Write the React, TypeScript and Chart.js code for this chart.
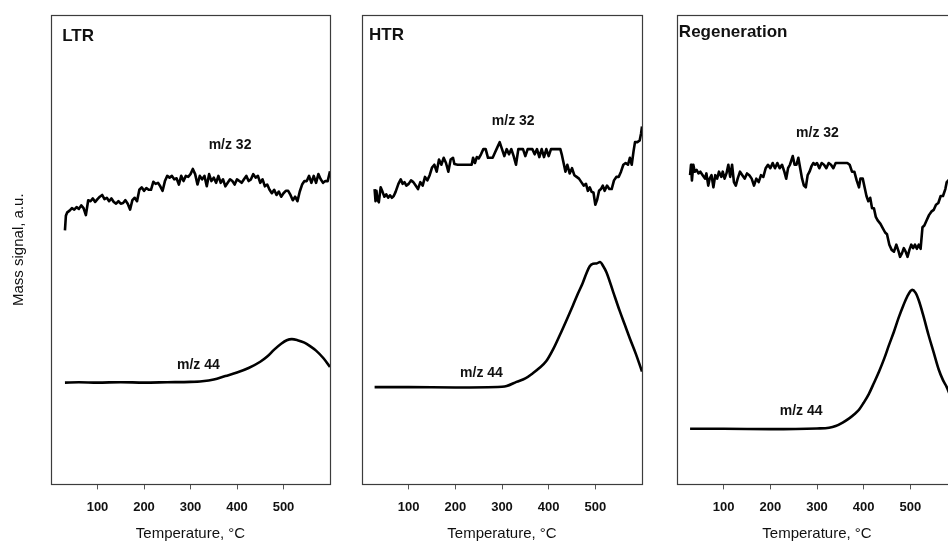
import React, { useEffect, useRef } from 'react';
import { Chart, registerables } from 'chart.js';
Chart.register(...registerables);

const FONT = '"Liberation Sans", Arial, Helvetica, sans-serif';

// x-axis ticks (°C)
const X_TICKS = [100, 200, 300, 400, 500];

// ---------- LTR ----------
const ltrT32 = [30, 32, 35, 40, 45, 50, 55, 60, 65, 70, 75, 80, 85, 90, 95, 100, 105, 110, 115, 120, 125, 130, 135, 140, 145, 150, 155, 160, 165, 170, 175, 180, 185, 190, 195, 200, 205, 210, 215, 220, 225, 230, 235, 240, 245, 250, 255, 260, 265, 270, 275, 280, 285, 290, 295, 300, 305, 310, 315, 320, 325, 330, 335, 340, 345, 350, 355, 360, 365, 370, 375, 380, 385, 390, 395, 400, 405, 410, 415, 420, 425, 430, 435, 440, 445, 450, 455, 460, 465, 470, 475, 480, 485, 490, 495, 500, 505, 510, 515, 520, 525, 530, 535, 540, 545, 550, 555, 560, 565, 570, 575, 580, 585, 590, 595, 600];
const ltrS32 = [731, 773, 783, 788, 795, 791, 798, 793, 803, 795, 775, 818, 815, 823, 813, 821, 828, 833, 821, 825, 815, 823, 813, 808, 815, 808, 810, 818, 808, 791, 818, 825, 815, 848, 855, 845, 853, 848, 848, 871, 865, 868, 858, 845, 873, 888, 883, 888, 878, 881, 863, 888, 873, 888, 885, 893, 908, 893, 863, 888, 878, 888, 858, 893, 873, 883, 868, 888, 868, 878, 858, 868, 878, 873, 863, 878, 873, 868, 878, 888, 873, 878, 893, 883, 888, 868, 878, 858, 863, 848, 838, 848, 833, 843, 828, 838, 845, 845, 833, 818, 828, 815, 843, 863, 873, 873, 888, 868, 888, 868, 893, 878, 868, 873, 873, 901];
const ltrT44 = [30, 60, 100, 150, 200, 250, 300, 325, 350, 375, 400, 425, 450, 465, 480, 495, 507, 518, 530, 545, 557, 570, 586, 600];
const ltrS44 = [293, 294, 293, 294, 293, 294, 295, 297, 302, 312, 322, 335, 353, 368, 388, 405, 415, 418, 415, 408, 398, 385, 363, 338];

// ---------- HTR ----------
const htrT32 = [27, 29, 31, 33, 36, 40, 44, 48, 52, 56, 60, 64, 68, 72, 78, 83, 87, 91, 95, 100, 105, 110, 115, 120, 125, 130, 135, 140, 145, 150, 155, 160, 165, 170, 175, 180, 185, 190, 195, 198, 205, 215, 225, 235, 238, 242, 246, 250, 255, 260, 265, 270, 275, 280, 285, 290, 295, 300, 305, 310, 315, 320, 325, 330, 335, 340, 345, 350, 355, 360, 365, 370, 375, 380, 385, 390, 395, 400, 405, 410, 415, 420, 425, 428, 432, 436, 440, 445, 450, 455, 460, 465, 470, 475, 480, 484, 488, 492, 496, 500, 504, 508, 512, 516, 520, 525, 530, 535, 540, 545, 550, 555, 560, 565, 570, 574, 578, 582, 585, 590, 595, 598, 600];
const htrS32 = [850, 815, 845, 820, 812, 855, 842, 828, 835, 825, 832, 825, 830, 842, 865, 878, 865, 870, 860, 865, 875, 870, 860, 850, 870, 860, 885, 875, 890, 912, 920, 900, 935, 920, 940, 925, 900, 935, 940, 922, 920, 920, 920, 920, 940, 925, 942, 938, 950, 965, 965, 940, 940, 940, 955, 970, 985, 965, 945, 965, 950, 965, 945, 920, 965, 965, 965, 945, 965, 965, 965, 950, 965, 942, 965, 942, 965, 945, 965, 965, 965, 965, 965, 950, 925, 900, 920, 895, 910, 890, 885, 880, 870, 860, 865, 845, 855, 842, 840, 805, 820, 845, 850, 860, 845, 860, 850, 850, 875, 885, 885, 900, 920, 925, 920, 940, 920, 960, 985, 985, 990, 1010, 1030];
const htrT44 = [27, 100, 200, 300, 310, 331, 350, 366, 380, 395, 410, 424, 438, 452, 463, 473, 481, 488, 495, 503, 510, 517, 524, 538, 552, 563, 574, 587, 600];
const htrS44 = [280, 280, 279, 281, 283, 295, 305, 320, 335, 355, 390, 430, 472, 515, 550, 580, 608, 628, 635, 636, 640, 628, 610, 555, 500, 460, 420, 375, 325];

// ---------- Regeneration ----------
const regT32 = [28, 30, 32, 35, 38, 42, 46, 50, 55, 60, 63, 67, 70, 74, 78, 82, 86, 90, 95, 98, 102, 106, 110, 114, 118, 122, 126, 130, 135, 140, 145, 150, 155, 160, 165, 170, 175, 180, 185, 190, 195, 200, 205, 210, 215, 220, 225, 230, 234, 238, 242, 248, 252, 256, 260, 264, 268, 272, 276, 280, 284, 288, 292, 296, 300, 305, 310, 315, 320, 325, 330, 335, 340, 345, 350, 355, 360, 365, 370, 375, 380, 385, 390, 393, 398, 402, 406, 410, 414, 418, 422, 426, 430, 436, 440, 446, 450, 455, 460, 465, 470, 475, 478, 482, 486, 490, 494, 498, 502, 506, 510, 514, 518, 522, 526, 530, 535, 540, 545, 550, 555, 560, 565, 570, 575, 578, 585, 595];
const regS32 = [890, 920, 875, 920, 900, 905, 895, 900, 890, 880, 895, 860, 880, 890, 855, 890, 880, 900, 885, 900, 880, 895, 920, 885, 920, 870, 860, 880, 900, 890, 880, 895, 890, 880, 860, 880, 870, 890, 885, 910, 920, 910, 925, 910, 925, 910, 920, 900, 880, 910, 920, 945, 920, 920, 940, 910, 880, 860, 855, 890, 900, 915, 925, 920, 925, 910, 925, 920, 910, 925, 920, 910, 925, 925, 925, 925, 925, 925, 920, 900, 900, 875, 855, 880, 880, 855, 830, 815, 825, 795, 795, 770, 760, 750, 740, 725, 720, 690, 675, 670, 690, 670, 655, 665, 680, 670, 655, 675, 690, 680, 690, 678, 690, 678, 740, 745, 760, 775, 785, 790, 805, 810, 830, 830, 850, 870, 880, 900];
const regT44 = [28, 100, 200, 300, 326, 340, 355, 369, 380, 390, 400, 411, 422, 433, 444, 454, 465, 475, 485, 493, 504, 511, 518, 528, 539, 550, 561, 570, 578, 590];
const regS44 = [160, 160, 159, 161, 163, 168, 178, 190, 202, 215, 235, 260, 292, 325, 362, 400, 440, 480, 515, 540, 560, 552, 530, 485, 430, 380, 330, 300, 280, 240];

type Label = { text: string; x: number; y: number; font: string; align: CanvasTextAlign };
type Panel = {
  left: number; width: number; padL: number; padR: number; yTitle: boolean;
  series: { t: number[]; s: number[]; smooth: boolean }[];
  labels: Label[];
};

const TITLE_FONT = `bold 17px ${FONT}`;
const MZ_FONT = `bold 14px ${FONT}`;

const PANELS: Panel[] = [
  {
    left: 0, width: 345, padL: 51, padR: 15, yTitle: true,
    series: [{ t: ltrT32, s: ltrS32, smooth: false }, { t: ltrT44, s: ltrS44, smooth: true }],
    labels: [
      { text: 'LTR', x: 24, y: 1290, font: TITLE_FONT, align: 'left' },
      { text: 'm/z 32', x: 385, y: 975, font: MZ_FONT, align: 'center' },
      { text: 'm/z 44', x: 317, y: 343, font: MZ_FONT, align: 'center' },
    ],
  },
  {
    left: 345, width: 310, padL: 17, padR: 13, yTitle: false,
    series: [{ t: htrT32, s: htrS32, smooth: false }, { t: htrT44, s: htrS44, smooth: true }],
    labels: [
      { text: 'HTR', x: 15, y: 1292, font: TITLE_FONT, align: 'left' },
      { text: 'm/z 32', x: 324, y: 1045, font: MZ_FONT, align: 'center' },
      { text: 'm/z 44', x: 256, y: 320, font: MZ_FONT, align: 'center' },
    ],
  },
  {
    left: 655, width: 320, padL: 22, padR: 18, yTitle: false,
    series: [{ t: regT32, s: regS32, smooth: false }, { t: regT44, s: regS44, smooth: true }],
    labels: [
      { text: 'Regeneration', x: 4, y: 1300, font: TITLE_FONT, align: 'left' },
      { text: 'm/z 32', x: 301, y: 1012, font: MZ_FONT, align: 'center' },
      { text: 'm/z 44', x: 266, y: 212, font: MZ_FONT, align: 'center' },
    ],
  },
];

const H = 545;

function PanelChart({ p }: { p: Panel }) {
  const ref = useRef<HTMLCanvasElement>(null);
  useEffect(() => {
    if (!ref.current) return;
    const deco = {
      id: 'deco',
      afterDatasetsDraw(chart: any) {
        const { ctx, chartArea: a, scales } = chart;
        ctx.save();
        ctx.strokeStyle = '#3c3c3c';
        ctx.lineWidth = 1.2;
        ctx.strokeRect(Math.round(a.left) + 0.5, Math.round(a.top) + 0.5, Math.round(a.right - a.left), Math.round(a.bottom - a.top));
        ctx.fillStyle = '#111';
        ctx.textBaseline = 'middle';
        for (const l of p.labels) {
          ctx.font = l.font;
          ctx.textAlign = l.align;
          ctx.fillText(l.text, scales.x.getPixelForValue(l.x), scales.y.getPixelForValue(l.y));
        }
        if (p.yTitle) {
          ctx.translate(19, (a.top + a.bottom) / 2);
          ctx.rotate(-Math.PI / 2);
          ctx.font = `15px ${FONT}`;
          ctx.textAlign = 'center';
          ctx.fillText('Mass signal, a.u.', 0, 0);
        }
        ctx.restore();
      },
    };
    const chart = new Chart(ref.current, {
      type: 'line',
      data: {
        datasets: p.series.map((s) => ({
          data: s.t.map((x, i) => ({ x, y: s.s[i] })),
          borderColor: '#000',
          borderWidth: 2.6,
          pointRadius: 0,
          fill: false,
          tension: s.smooth ? 0.4 : 0,
          cubicInterpolationMode: s.smooth ? 'monotone' : 'default',
          borderJoinStyle: 'round',
        })) as any,
      },
      options: {
        responsive: false,
        animation: false,
        events: [],
        layout: { padding: { left: p.padL, right: p.padR, top: 15, bottom: 0 } },
        plugins: { legend: { display: false }, tooltip: { enabled: false } },
        scales: {
          x: {
            type: 'linear',
            min: 0,
            max: 600,
            afterBuildTicks: (axis: any) => {
              axis.ticks = X_TICKS.map((value) => ({ value }));
            },
            border: { display: false },
            grid: { drawOnChartArea: false, drawTicks: true, tickLength: 5, color: '#555', lineWidth: 1 },
            ticks: { font: { family: FONT, size: 13, weight: 'bold' }, color: '#111', padding: 10, maxRotation: 0 },
            title: {
              display: true,
              text: 'Temperature, °C',
              font: { family: FONT, size: 15 },
              color: '#111',
              padding: { top: 0, bottom: 2 },
            },
          },
          y: { display: false, min: 0, max: 1351 },
        },
      },
      plugins: [deco],
    });
    return () => chart.destroy();
  }, [p]);
  return (
    <canvas
      ref={ref}
      width={p.width}
      height={H}
      style={{ position: 'absolute', left: p.left, top: 0, width: p.width, height: H }}
    />
  );
}

export default function App() {
  return (
    <div style={{ position: 'fixed', left: 0, top: 0, width: 948, height: H, overflow: 'hidden', background: '#fff' }}>
      {PANELS.map((p, i) => (
        <PanelChart key={i} p={p} />
      ))}
    </div>
  );
}
